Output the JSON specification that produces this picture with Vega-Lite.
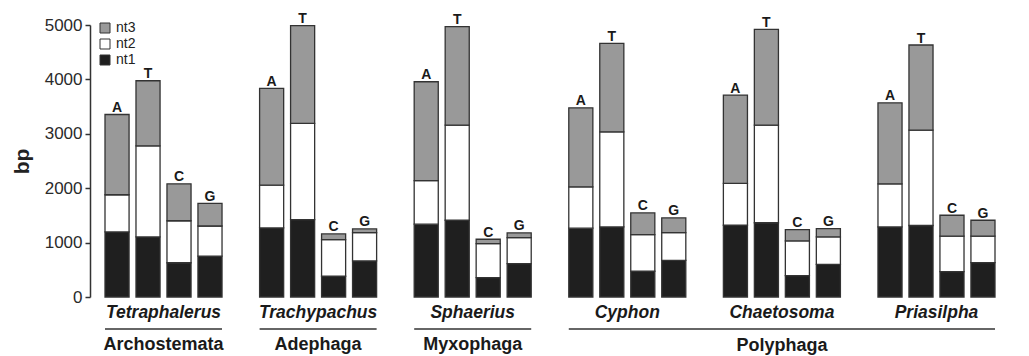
{
  "$schema": "https://vega.github.io/schema/vega-lite/v6.json",
  "autosize": {"type": "none"},
  "width": 939,
  "height": 272,
  "padding": {"left": 90, "top": 25, "right": 0, "bottom": 59},
  "background": "white",
  "config": {
    "view": {"stroke": null},
    "font": "Liberation Sans, Arial, sans-serif"
  },
  "datasets": {
    "bars": [
      {"genus": "Tetraphalerus", "base": "A", "nt1": 1196, "nt2": 684, "nt3": 1475},
      {"genus": "Tetraphalerus", "base": "T", "nt1": 1104, "nt2": 1675, "nt3": 1196},
      {"genus": "Tetraphalerus", "base": "C", "nt1": 630, "nt2": 772, "nt3": 678},
      {"genus": "Tetraphalerus", "base": "G", "nt1": 752, "nt2": 553, "nt3": 415},
      {"genus": "Trachypachus", "base": "A", "nt1": 1270, "nt2": 785, "nt3": 1779},
      {"genus": "Trachypachus", "base": "T", "nt1": 1424, "nt2": 1766, "nt3": 1800},
      {"genus": "Trachypachus", "base": "C", "nt1": 381, "nt2": 675, "nt3": 103},
      {"genus": "Trachypachus", "base": "G", "nt1": 663, "nt2": 522, "nt3": 66},
      {"genus": "Sphaerius", "base": "A", "nt1": 1338, "nt2": 803, "nt3": 1816},
      {"genus": "Sphaerius", "base": "T", "nt1": 1411, "nt2": 1749, "nt3": 1809},
      {"genus": "Sphaerius", "base": "C", "nt1": 357, "nt2": 625, "nt3": 80},
      {"genus": "Sphaerius", "base": "G", "nt1": 615, "nt2": 478, "nt3": 85},
      {"genus": "Cyphon", "base": "A", "nt1": 1265, "nt2": 760, "nt3": 1453},
      {"genus": "Cyphon", "base": "T", "nt1": 1288, "nt2": 1749, "nt3": 1626},
      {"genus": "Cyphon", "base": "C", "nt1": 473, "nt2": 675, "nt3": 398},
      {"genus": "Cyphon", "base": "G", "nt1": 675, "nt2": 510, "nt3": 269},
      {"genus": "Chaetosoma", "base": "A", "nt1": 1319, "nt2": 768, "nt3": 1625},
      {"genus": "Chaetosoma", "base": "T", "nt1": 1365, "nt2": 1795, "nt3": 1760},
      {"genus": "Chaetosoma", "base": "C", "nt1": 393, "nt2": 638, "nt3": 209},
      {"genus": "Chaetosoma", "base": "G", "nt1": 601, "nt2": 504, "nt3": 153},
      {"genus": "Priasilpha", "base": "A", "nt1": 1288, "nt2": 792, "nt3": 1490},
      {"genus": "Priasilpha", "base": "T", "nt1": 1314, "nt2": 1754, "nt3": 1564},
      {"genus": "Priasilpha", "base": "C", "nt1": 466, "nt2": 654, "nt3": 383},
      {"genus": "Priasilpha", "base": "G", "nt1": 633, "nt2": 487, "nt3": 291}
    ],
    "genera": [
      {"genus": "Tetraphalerus"},
      {"genus": "Trachypachus"},
      {"genus": "Sphaerius"},
      {"genus": "Cyphon"},
      {"genus": "Chaetosoma"},
      {"genus": "Priasilpha"}
    ],
    "orders": [
      {"order": "Archostemata", "first": "Tetraphalerus", "last": "Tetraphalerus", "genus": "Tetraphalerus", "low": false},
      {"order": "Adephaga", "first": "Trachypachus", "last": "Trachypachus", "genus": "Trachypachus", "low": false},
      {"order": "Myxophaga", "first": "Sphaerius", "last": "Sphaerius", "genus": "Sphaerius", "low": false},
      {"order": "Polyphaga", "first": "Cyphon", "last": "Priasilpha", "genus": "Chaetosoma", "low": true}
    ]
  },
  "layer": [
    {
      "data": {"name": "bars"},
      "transform": [{"fold": ["nt1", "nt2", "nt3"], "as": ["part", "bp"]}],
      "mark": {"type": "bar", "stroke": "#333333", "strokeWidth": 1.3},
      "encoding": {
        "x": {
          "field": "genus", "type": "nominal",
          "scale": {"domain": ["Tetraphalerus", "Trachypachus", "Sphaerius", "Cyphon", "Chaetosoma", "Priasilpha"], "range": [15, 905], "paddingInner": 0.243, "paddingOuter": 0},
          "axis": null
        },
        "xOffset": {
          "field": "base", "type": "nominal",
          "scale": {"domain": ["A", "T", "C", "G"], "paddingInner": 0.223, "paddingOuter": 0}
        },
        "y": {
          "aggregate": "sum", "field": "bp", "type": "quantitative", "stack": "zero",
          "scale": {"domain": [0, 5000], "nice": false},
          "axis": {
            "title": "bp", "values": [0, 1000, 2000, 3000, 4000, 5000], "format": "d", "grid": false,
            "domainColor": "#333333", "domainWidth": 1.5,
            "tickColor": "#333333", "tickWidth": 1.5, "tickSize": 5,
            "labelFontSize": 17, "labelColor": "#2a2a2a", "labelPadding": 3,
            "titleFontSize": 21, "titleFontWeight": "bold", "titleColor": "#222222", "titlePadding": 12
          }
        },
        "color": {
          "field": "part", "type": "nominal",
          "scale": {"domain": ["nt3", "nt2", "nt1"], "range": ["#999999", "#ffffff", "#1f1f1f"]},
          "legend": {
            "title": null, "orient": "none", "legendX": 8, "legendY": -4, "padding": 0,
            "symbolType": "square", "symbolSize": 100, "symbolStrokeColor": "#333333", "symbolStrokeWidth": 1, "symbolOpacity": 1,
            "labelFontSize": 14, "labelColor": "#222222", "labelOffset": 4, "rowPadding": 2
          }
        },
        "order": {"field": "part", "sort": "ascending"}
      }
    },
    {
      "data": {"name": "bars"},
      "transform": [{"fold": ["nt1", "nt2", "nt3"], "as": ["part", "bp"]}],
      "mark": {"type": "text", "baseline": "alphabetic", "dy": -2.5, "fontSize": 14, "fontWeight": "bold", "color": "#1a1a1a"},
      "encoding": {
        "x": {"field": "genus", "type": "nominal", "axis": null},
        "xOffset": {"field": "base", "type": "nominal"},
        "y": {"aggregate": "sum", "field": "bp", "type": "quantitative"},
        "text": {"field": "base", "type": "nominal"}
      }
    },
    {
      "mark": {"type": "rule", "color": "#333333", "strokeWidth": 1.5},
      "encoding": {"y": {"datum": 0}}
    },
    {
      "data": {"name": "genera"},
      "mark": {"type": "text", "baseline": "middle", "dy": 16, "fontSize": 17.5, "fontWeight": "bold", "fontStyle": "italic", "color": "#1a1a1a"},
      "encoding": {
        "x": {"field": "genus", "type": "nominal", "axis": null},
        "y": {"datum": 0},
        "text": {"field": "genus", "type": "nominal"}
      }
    },
    {
      "data": {"name": "orders"},
      "mark": {"type": "rule", "color": "#333333", "strokeWidth": 1.5, "yOffset": 32},
      "encoding": {
        "x": {"field": "first", "type": "nominal", "bandPosition": 0, "axis": null},
        "x2": {"field": "last", "bandPosition": 1},
        "y": {"datum": 0}
      }
    },
    {
      "data": {"name": "orders"},
      "transform": [{"filter": "!datum.low"}],
      "mark": {"type": "text", "baseline": "middle", "dy": 48, "fontSize": 18, "fontWeight": "bold", "color": "#1a1a1a"},
      "encoding": {
        "x": {"field": "genus", "type": "nominal", "axis": null},
        "y": {"datum": 0},
        "text": {"field": "order", "type": "nominal"}
      }
    },
    {
      "data": {"name": "orders"},
      "transform": [{"filter": "datum.low"}],
      "mark": {"type": "text", "baseline": "middle", "dy": 49, "fontSize": 18, "fontWeight": "bold", "color": "#1a1a1a"},
      "encoding": {
        "x": {"field": "genus", "type": "nominal", "axis": null},
        "y": {"datum": 0},
        "text": {"field": "order", "type": "nominal"}
      }
    }
  ]
}
